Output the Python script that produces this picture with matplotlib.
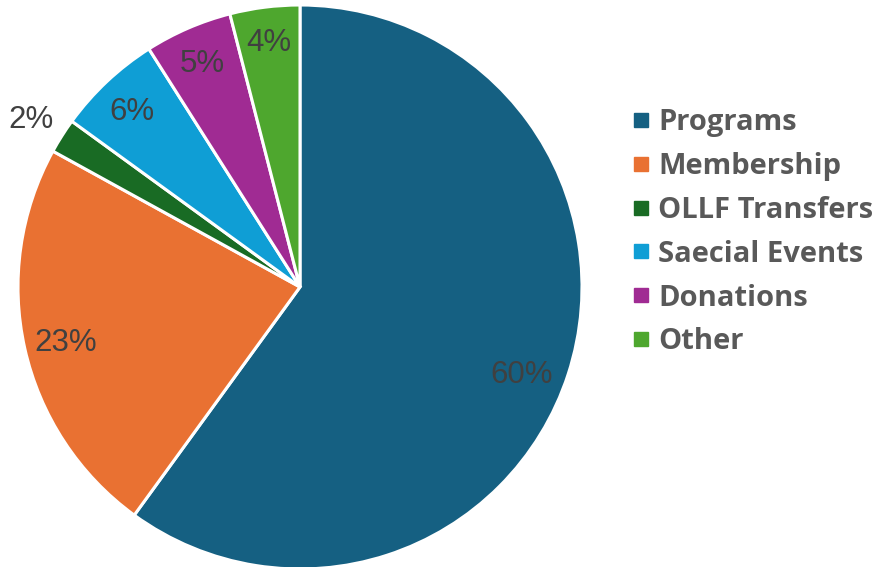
import matplotlib
matplotlib.use("Agg")
import matplotlib.pyplot as plt
from matplotlib.lines import Line2D
import numpy as np

categories = ["Programs", "Membership", "OLLF Transfers", "Saecial Events", "Donations", "Other"]
values = [60, 23, 2, 6, 5, 4]
colors = ["#156082", "#E97132", "#196B24", "#0F9ED5", "#A02B93", "#4EA72E"]
pct_labels = ["60%", "23%", "2%", "6%", "5%", "4%"]
label_dist = [0.84, 0.85, 1.13, 0.87, 0.875, 0.885]
label_rot = [-2.8, 0, 0, 0, 0, 0]

W, H = 881, 567
fig = plt.figure(figsize=(W / 100, H / 100), dpi=100)
cx, cy, R = 300, 287, 282
ax = fig.add_axes([(cx - R) / W, (H - cy - R) / H, 2 * R / W, 2 * R / H])

wedges, texts = ax.pie(values, colors=colors, startangle=90, counterclock=False,
                       radius=1, wedgeprops=dict(edgecolor="white", linewidth=2.2),
                       labels=pct_labels, labeldistance=0.84,
                       textprops=dict(fontsize=22.5, color="#404040", family="Liberation Sans",
                                      ha="center", va="center"))
ax.set_xlim(-1, 1)
ax.set_ylim(-1, 1)
ax.set_aspect("equal")
ax.axis("off")
for w, t, d, r in zip(wedges, texts, label_dist, label_rot):
    a = np.deg2rad((w.theta1 + w.theta2) / 2 + r)
    t.set_position((d * np.cos(a), d * np.sin(a) - 0.012))
    t.set_ha("center")
    t.set_va("center")

handles = [Line2D([], [], marker="s", linestyle="none", markersize=10,
                  markerfacecolor=c, markeredgecolor=c) for c in colors]
fig.legend(handles, categories, loc="upper left", bbox_to_anchor=(632 / W, 1 - 108 / H),
           frameon=False, handlelength=0.6, handletextpad=0.29, labelspacing=0.51,
           borderaxespad=0, borderpad=0,
           prop=dict(family="Open Sans", weight="bold", size=21), labelcolor="#595959")

fig.savefig("out.png", dpi=100)
